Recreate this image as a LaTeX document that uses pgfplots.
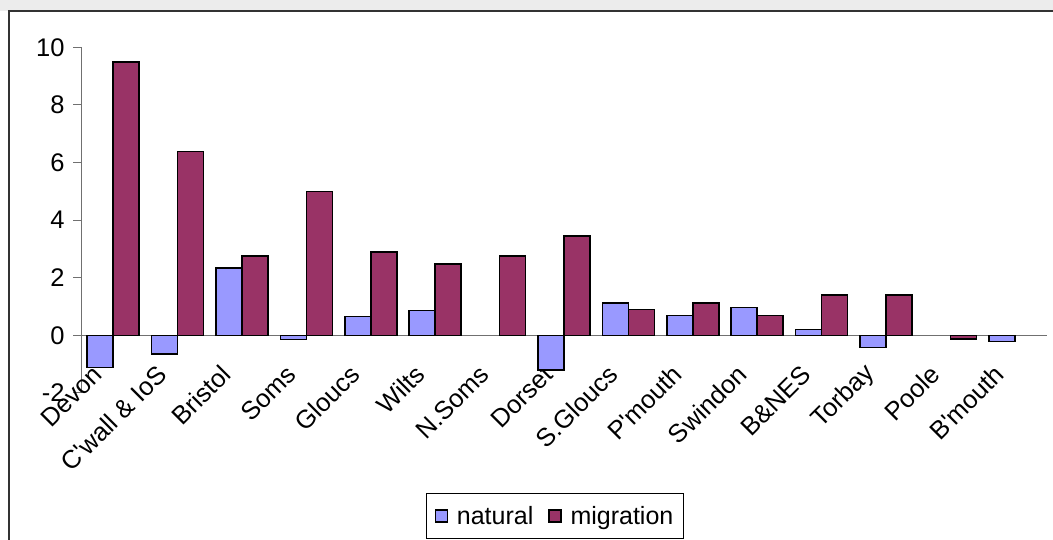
\documentclass[border=0pt]{standalone}
\usepackage{fontspec}
\setmainfont{Liberation Sans}
\usepackage{pgfplots}
\usepackage{pgfplotstable}
\pgfplotsset{compat=1.18}
\definecolor{nat}{HTML}{9999FF}
\definecolor{mig}{HTML}{993366}
\definecolor{axgray}{HTML}{707070}
\pgfplotstableread{
x natural migration
0 -1.12 9.50
1 -0.65 6.38
2 2.34 2.76
3 -0.14 5.00
4 0.66 2.90
5 0.87 2.48
6 nan 2.75
7 -1.20 3.45
8 1.12 0.90
9 0.69 1.12
10 0.97 0.69
11 0.21 1.40
12 -0.42 1.40
13 nan -0.13
14 -0.21 nan
}\datatable
\begin{document}
\begin{tikzpicture}[x=1pt,y=1pt]
\useasboundingbox (0,0) rectangle (1053,540);
\clip (0,0) rectangle (1053,540);
\fill[gray!15] (0,529) rectangle (1053,540);
\draw[line width=1.5pt, black!80] (9,-5) -- (9,529) -- (1060,529);
\begin{axis}[
  at={(81pt,147pt)}, anchor=south west,
  scale only axis, width=966pt, height=345.6pt,
  xmin=-0.5, xmax=14.5, ymin=-2, ymax=10,
  axis x line=middle, axis y line=left,
  axis line style={-, axgray, line width=1pt},
  hide obscured x ticks=false, hide obscured y ticks=false,
  tick align=outside,
  major tick length=8pt,
  tick style={axgray, line width=1pt},
  ytick={-2,0,2,4,6,8,10},
  yticklabels={-2,0,2,4,6,8,10},
  yticklabel style={font=\fontsize{25.5}{30}\selectfont, xshift=-5pt},
  xtick={0,...,14},
  xticklabels={Devon, C\textquotesingle wall \& IoS, Bristol, Soms, Gloucs, Wilts, N.Soms, Dorset, S.Gloucs, P\textquotesingle mouth, Swindon, B\&NES, Torbay, Poole, B\textquotesingle mouth},
  x tick style={draw=none},
  xticklabel style={font=\fontsize{25.5}{30}\selectfont, xshift=-13pt, yshift=-24pt, rotate=45, anchor=east},
  extra x ticks={-0.5,0.5,...,14.5},
  extra x tick labels={},
  extra x tick style={tick align=center, major tick length=16pt, tick style={axgray, line width=1pt}},
  ybar=0pt, bar width=26pt,
  legend style={at={(0.4907,-0.3559)}, anchor=center, draw=black, line width=1pt,
    legend columns=2, font=\fontsize{25}{30}\selectfont,
    inner xsep=8pt, inner ysep=11pt,
    /tikz/every odd column/.append style={column sep=7pt},
    /tikz/every even column/.append style={column sep=13pt}},
]
\addplot[fill=nat, draw=black, line width=1.5pt,
  legend image code/.code={\draw[fill=nat, draw=black, line width=1.2pt] (0pt,-6pt) rectangle (12pt,6pt);}]
  table[x=x, y=natural] {\datatable};
\addlegendentry{natural}
\addplot[fill=mig, draw=black, line width=1.5pt,
  legend image code/.code={\draw[fill=mig, draw=black, line width=1.2pt] (0pt,-6pt) rectangle (12pt,6pt);}]
  table[x=x, y=migration] {\datatable};
\addlegendentry{migration}
\end{axis}
\end{tikzpicture}
\end{document}
